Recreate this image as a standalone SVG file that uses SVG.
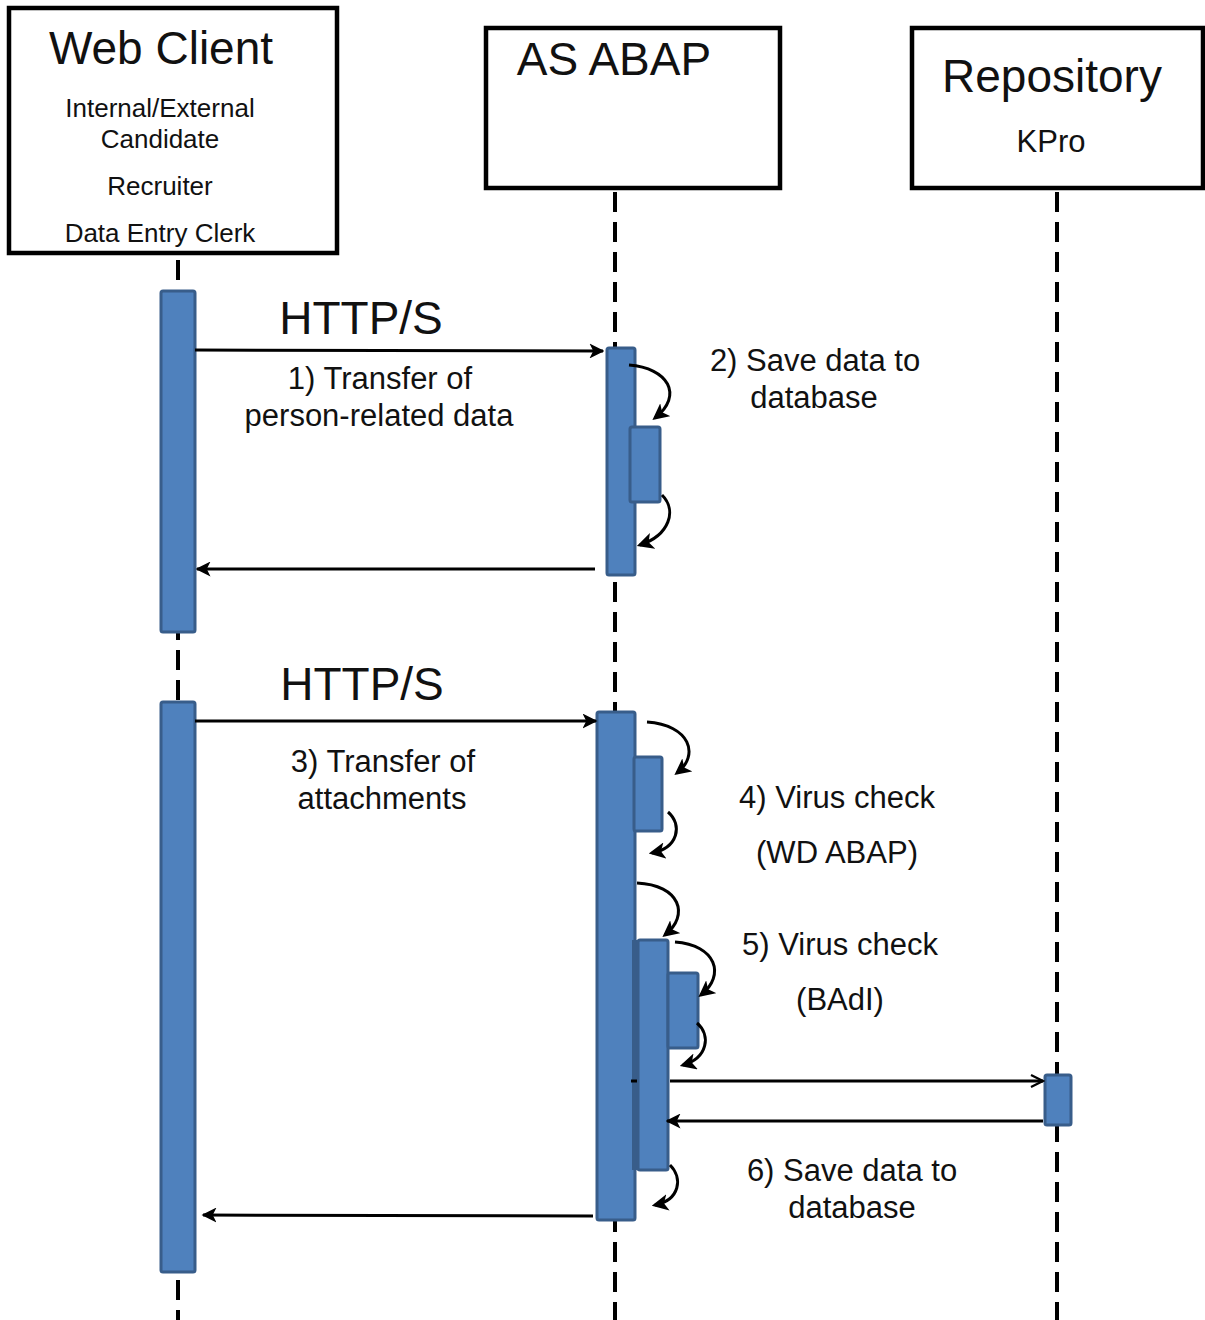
<svg xmlns="http://www.w3.org/2000/svg" width="1205" height="1320" viewBox="0 0 1205 1320">
<style>
.box{fill:#fff;stroke:#000;stroke-width:4.5}
.life{stroke:#000;stroke-width:4;stroke-dasharray:20 10;fill:none}
.act{fill:#4F81BD;stroke:#385D8A;stroke-width:3}
.msg{stroke:#000;stroke-width:3;fill:none}
.self{stroke:#000;stroke-width:3;fill:none}
text{font-family:"Liberation Sans",Arial,sans-serif;fill:#111;text-anchor:middle}
.t46{font-size:46px}
.t31{font-size:31px}
.t26{font-size:26px}
</style>
<defs>
<marker id="ah" viewBox="0 0 10 10" refX="9" refY="5" markerWidth="5" markerHeight="5" orient="auto" markerUnits="strokeWidth">
<path d="M0,0 L10,5 L0,10 L2.5,5 z" fill="#000"/>
</marker>
<marker id="ahs" viewBox="0 0 10 10" refX="8" refY="5" markerWidth="5.5" markerHeight="5.5" orient="auto" markerUnits="strokeWidth">
<path d="M0,0 L10,5 L0,10 L2.5,5 z" fill="#000"/>
</marker>
<marker id="ao" viewBox="0 0 10 10" refX="9" refY="5" markerWidth="5" markerHeight="5" orient="auto" markerUnits="strokeWidth">
<path d="M1,1 L9,5 L1,9" fill="none" stroke="#000" stroke-width="1.5"/>
</marker>
</defs>

<g id="lifelines">
<line class="life" x1="178" y1="260" x2="178" y2="1320"/>
<line class="life" x1="615" y1="192" x2="615" y2="1320"/>
<line class="life" x1="1057" y1="192" x2="1057" y2="1320"/>
</g>

<g id="web-client">
<rect class="box" x="9" y="8" width="328" height="245"/>
<text class="t46" x="161" y="64">Web Client</text>
<text class="t26" x="160" y="117">Internal/External</text>
<text class="t26" x="160" y="148">Candidate</text>
<text class="t26" x="160" y="195">Recruiter</text>
<text class="t26" x="160" y="242">Data Entry Clerk</text>
</g>

<g id="as-abap">
<rect class="box" x="486" y="28" width="294" height="160"/>
<text class="t46" x="614" y="75">AS ABAP</text>
</g>

<g id="repository">
<rect class="box" x="912" y="28" width="291" height="160"/>
<text class="t46" x="1052" y="92">Repository</text>
<text class="t31" x="1051" y="152">KPro</text>
</g>

<g id="activations">
<rect class="act" x="161" y="291" width="34" height="341" rx="2"/>
<rect class="act" x="161" y="702" width="34" height="570" rx="2"/>
<rect class="act" x="607" y="348" width="28" height="227" rx="2"/>
<rect class="act" x="630" y="427" width="30" height="75" rx="2"/>
<rect class="act" x="597" y="712" width="38" height="508" rx="2"/>
<rect class="act" x="634" y="757" width="28" height="74" rx="2"/>
<rect x="632" y="940" width="6" height="230" fill="#385D8A"/>
<rect class="act" x="638" y="940" width="30" height="230" rx="2"/>
<rect class="act" x="668" y="973" width="30" height="75" rx="2"/>
<rect class="act" x="1045" y="1075" width="26" height="50" rx="2"/>
</g>

<g id="connectors">
<line class="msg" x1="195" y1="350" x2="603" y2="351" marker-end="url(#ah)"/>
<line class="msg" x1="595" y1="569" x2="197" y2="569" marker-end="url(#ah)"/>
<line class="msg" x1="195" y1="721" x2="596" y2="721" marker-end="url(#ah)"/>
<line class="msg" x1="670" y1="1081" x2="1043" y2="1081" marker-end="url(#ao)"/>
<line class="msg" x1="631" y1="1081" x2="637" y2="1081"/>
<line class="msg" x1="1043" y1="1121" x2="667" y2="1121" marker-end="url(#ah)"/>
<line class="msg" x1="593" y1="1216" x2="203" y2="1215" marker-end="url(#ah)"/>

<path class="self" d="M629,365 C668,368 684,395 655,418" marker-end="url(#ahs)"/>
<path class="self" d="M662,495 C677,510 670,535 640,545" marker-end="url(#ahs)"/>
<path class="self" d="M647,722 C690,725 700,755 677,773" marker-end="url(#ahs)"/>
<path class="self" d="M668,812 C683,825 678,848 652,853" marker-end="url(#ahs)"/>
<path class="self" d="M637,883 C680,885 690,915 665,935" marker-end="url(#ahs)"/>
<path class="self" d="M675,942 C716,945 726,975 701,995" marker-end="url(#ahs)"/>
<path class="self" d="M697,1023 C711,1035 708,1058 683,1065" marker-end="url(#ahs)"/>
<path class="self" d="M670,1165 C683,1178 680,1200 655,1205" marker-end="url(#ahs)"/>
</g>

<g id="labels">
<text class="t46" x="361" y="334">HTTP/S</text>
<text class="t31" x="380" y="389">1) Transfer of</text>
<text class="t31" x="379" y="426">person-related data</text>
<text class="t31" x="815" y="371">2) Save data to</text>
<text class="t31" x="814" y="408">database</text>
<text class="t46" x="362" y="700">HTTP/S</text>
<text class="t31" x="383" y="772">3) Transfer of</text>
<text class="t31" x="382" y="809">attachments</text>
<text class="t31" x="837" y="808">4) Virus check</text>
<text class="t31" x="837" y="863">(WD ABAP)</text>
<text class="t31" x="840" y="955">5) Virus check</text>
<text class="t31" x="840" y="1010">(BAdI)</text>
<text class="t31" x="852" y="1181">6) Save data to</text>
<text class="t31" x="852" y="1218">database</text>
</g>
</svg>
